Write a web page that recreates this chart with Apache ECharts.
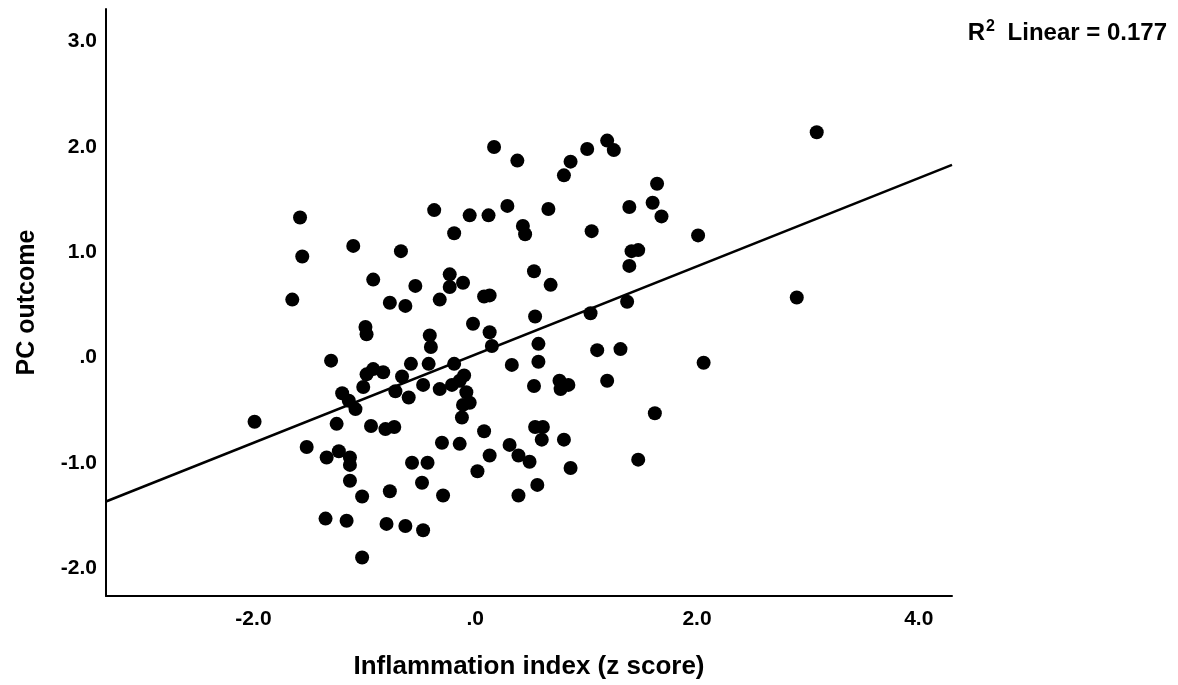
<!DOCTYPE html>
<html>
<head>
<meta charset="utf-8">
<script src="https://cdn.jsdelivr.net/npm/echarts@6/dist/echarts.min.js"></script>
<style>
  html, body { margin: 0; padding: 0; background: #fff; }
  #chart { width: 1178px; height: 685px; }
</style>
</head>
<body>
<div id="chart"></div>
<script>
// ---- Data (x = Inflammation index z score, y = PC outcome) ----
const inflammationX = [
  -1.99, -1.65, -1.58, -1.56, -1.10, -0.92, -0.77, -0.63, -0.67, -0.99,
  -0.98, -1.30, -0.92, -0.83, -0.98, -1.01, -0.72, -1.20, -1.14, -1.08,
  -1.25, -0.94, -0.81, -0.73, -1.52, -1.34, -1.23, -1.13, -1.13, -1.13,
  -1.02, -0.77, -1.35, -1.16, -0.80, -1.02,
  -0.37, -0.05, 0.12, 0.29, 0.66, -0.19, 0.43, 0.45, 0.53, -0.23,
  -0.23, -0.11, -0.54, 0.68, 0.08, 0.13, -0.32, 0.54, -0.02, 0.13,
  -0.41, -0.40, 0.15, 0.57, 0.57, 0.33, -0.58, -0.42, -0.19, -0.10,
  -0.66, -0.47, -0.32, -0.21, -0.14, -0.60, -0.08, -0.05, -0.11, -0.12,
  0.53, 0.08, 0.54, 0.61, 0.60, -0.30, -0.14, 0.31, 0.39, 0.49,
  0.13, -0.57, -0.43, 0.02, -0.48, -0.29, 0.39, 0.56, -0.63, -0.47,
  0.17, 0.38,
  1.19, 1.25, 1.01, 0.86, 0.80, 1.64, 1.60, 1.68, 1.39, 1.05,
  2.01, 1.41, 1.47, 1.39, 1.37, 1.04, 1.10, 1.31, 2.06, 0.76,
  0.84, 0.77, 1.19, 1.62, 0.80, 1.47, 0.86, 3.08, 2.90
];
const pcOutcomeY = [
  -0.61, 0.55, 1.33, 0.96, 1.06, 0.74, 0.52, 0.49, 1.01, 0.29,
  0.22, -0.03, -0.11, -0.14, -0.16, -0.28, -0.32, -0.34, -0.41, -0.49,
  -0.63, -0.65, -0.68, -0.66, -0.85, -0.95, -0.89, -0.95, -1.02, -1.17,
  -1.32, -1.27, -1.53, -1.55, -1.58, -1.90,
  1.40, 1.35, 1.35, 1.44, 1.41, 1.18, 1.25, 1.17, 0.82, 0.79,
  0.67, 0.71, 0.68, 0.69, 0.58, 0.59, 0.55, 0.39, 0.32, 0.24,
  0.21, 0.10, 0.11, 0.13, -0.04, -0.07, -0.06, -0.06, -0.06, -0.17,
  -0.18, -0.26, -0.30, -0.26, -0.22, -0.38, -0.33, -0.43, -0.45, -0.57,
  -0.27, -0.70, -0.66, -0.66, -0.78, -0.81, -0.82, -0.83, -0.93, -0.99,
  -0.93, -1.00, -1.00, -1.08, -1.19, -1.31, -1.31, -1.21, -1.60, -1.64,
  2.00, 1.87,
  2.06, 1.97, 1.98, 1.86, 1.73, 1.65, 1.47, 1.34, 1.43, 1.20,
  1.16, 1.01, 1.02, 0.87, 0.53, 0.42, 0.07, 0.08, -0.05, -0.22,
  -0.26, -0.30, -0.22, -0.53, -0.78, -0.97, -1.05, 2.14, 0.57
];

// Linear fit and its R²
const fitIntercept = 0.028;
const fitSlope = 0.419;
const rSquared = '0.177';

// Axis ranges and tick labels
const xRange = [-3.33, 4.30];
const yRange = [-2.265, 3.31];
const xTickValues = [-2, 0, 2, 4];
const xTickLabels = ['-2.0', '.0', '2.0', '4.0'];
const yTickValues = [-2, -1, 0, 1, 2, 3];
const yTickLabels = ['-2.0', '-1.0', '.0', '1.0', '2.0', '3.0'];

const FONT = '"Liberation Sans", Arial, sans-serif';

function labelFor(values, labels) {
  return function (v) {
    const i = values.findIndex(t => Math.abs(t - v) < 1e-6);
    return i >= 0 ? labels[i] : '';
  };
}

const points = inflammationX.map((x, i) => [x, pcOutcomeY[i]]);
const fitLine = xRange.map(x => [x, fitIntercept + fitSlope * x]);

const chart = echarts.init(document.getElementById('chart'), null, { renderer: 'canvas' });
chart.setOption({
  animation: false,
  backgroundColor: '#ffffff',
  title: {
    text: '{r|R}{sup|2}{r| Linear = ' + rSquared + '}',
    right: 6,
    top: 14,
    textStyle: {
      rich: {
        r: { fontFamily: FONT, fontWeight: 'bold', fontSize: 24, color: '#000' },
        sup: { fontFamily: FONT, fontWeight: 'bold', fontSize: 16, color: '#000', padding: [0, 6, 12, 1] }
      }
    }
  },
  grid: { left: 106, right: 226, top: 9, bottom: 88, containLabel: false },
  xAxis: {
    type: 'value',
    min: xRange[0],
    max: xRange[1],
    name: 'Inflammation index (z score)',
    nameLocation: 'middle',
    nameGap: 58,
    nameTextStyle: { fontFamily: FONT, fontWeight: 'bold', fontSize: 26, color: '#000' },
    axisLine: { show: true, onZero: false, lineStyle: { color: '#000', width: 2 } },
    axisTick: { show: false },
    splitLine: { show: false },
    axisLabel: {
      customValues: xTickValues,
      formatter: labelFor(xTickValues, xTickLabels),
      fontFamily: FONT, fontWeight: 'bold', fontSize: 21, color: '#000', margin: 13
    }
  },
  yAxis: {
    type: 'value',
    min: yRange[0],
    max: yRange[1],
    name: 'PC outcome',
    nameLocation: 'middle',
    nameGap: 66,
    nameTextStyle: { fontFamily: FONT, fontWeight: 'bold', fontSize: 25, color: '#000' },
    axisLine: { show: true, onZero: false, lineStyle: { color: '#000', width: 2 } },
    axisTick: { show: false },
    splitLine: { show: false },
    axisLabel: {
      customValues: yTickValues,
      formatter: labelFor(yTickValues, yTickLabels),
      fontFamily: FONT, fontWeight: 'bold', fontSize: 21, color: '#000', margin: 9
    }
  },
  series: [
    {
      type: 'scatter',
      data: points,
      symbol: 'circle',
      symbolSize: 14,
      itemStyle: { color: '#000', opacity: 1 },
      z: 3
    },
    {
      type: 'line',
      data: fitLine,
      symbol: 'none',
      lineStyle: { color: '#000', width: 2.5 },
      z: 2
    }
  ]
});
</script>
</body>
</html>
